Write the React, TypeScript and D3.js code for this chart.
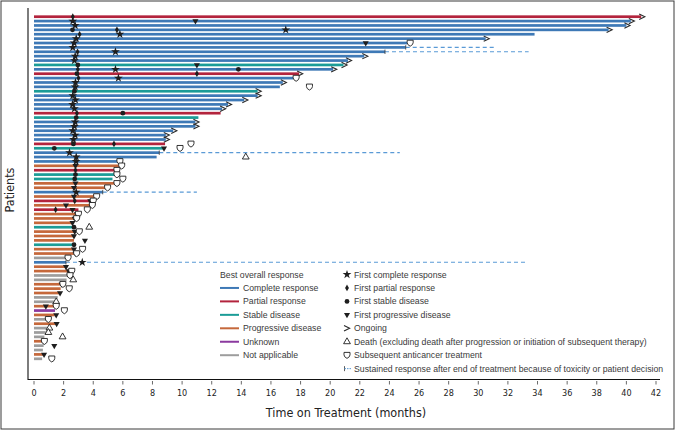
import React from "react";
import * as d3 from "d3";

const responseTypes = ["CR", "PR", "SD", "PD", "UN", "NA"];
const responseLabels = ["Complete response", "Partial response", "Stable disease", "Progressive disease", "Unknown", "Not applicable"];
const responseColors = ["#3e79b6", "#b3243d", "#1b9c97", "#c5683b", "#8b3a9f", "#9d9d9d"];

const bestResponse = [
  "PR", "CR", "CR", "CR", "CR", "CR", "CR", "CR", "CR", "CR",
  "CR", "SD", "CR", "PR", "CR", "CR", "CR", "SD", "CR", "CR",
  "CR", "CR", "PR", "SD", "CR", "CR", "CR", "CR", "CR", "PR",
  "SD", "CR", "CR", "CR", "PD", "PR", "SD", "SD", "PD", "PD",
  "CR", "PD", "PR", "PD", "PR", "PD", "PD", "PD", "SD", "PD",
  "PD", "PD", "SD", "PD", "PD", "NA", "CR", "PD", "PD", "NA",
  "NA", "PD", "PD", "PD", "NA", "NA", "PD", "UN", "PD", "NA",
  "PD", "NA", "NA", "NA", "PD", "NA", "NA", "PD", "NA",
];

const duration = [
  41.0, 40.3, 40.0, 38.8, 33.8, 30.5, 25.2, 25.1, 23.7, 22.3,
  21.2, 20.9, 20.2, 17.9, 17.5, 16.8, 16.6, 15.1, 15.1, 14.2,
  13.1, 12.7, 12.6, 11.1, 10.9, 10.9, 9.4, 8.9, 8.9, 8.85,
  8.78, 8.46, 8.28, 5.75, 5.8, 5.6, 5.5, 5.3, 5.4, 4.8,
  4.64, 4.1, 3.9, 3.8, 3.0, 3.0, 2.85, 2.6, 2.7, 2.75,
  2.7, 2.7, 2.7, 2.7, 2.85, 2.2, 2.16, 2.1, 2.3, 2.4,
  2.2, 1.85, 1.8, 1.75, 1.6, 1.4, 1.5, 1.42, 1.4, 0.95,
  1.5, 0.9, 0.8, 0.7, 0.7, 0.65, 0.6, 0.7, 0.55,
];

const ongoingRows = [1, 2, 3, 4, 6, 10, 11, 12, 13, 14, 16, 18, 19, 20, 21, 22, 25, 26, 27, 28, 29];

const sustained: [number, number][] = [[8, 31.2], [9, 33.4], [32, 24.7], [41, 11.0], [57, 33.3]];

const firstCR: [number, number][] = [
  [2, 2.62], [3, 2.78], [4, 17.0], [5, 5.8], [6, 2.85], [7, 2.71], [8, 2.62], [9, 5.5], [10, 2.78], [11, 2.73],
  [13, 5.5], [15, 5.7], [16, 2.8], [17, 2.78], [19, 2.62], [20, 2.8], [21, 2.6], [22, 2.73], [25, 2.78], [26, 2.73],
  [27, 2.62], [28, 2.78], [29, 2.66], [32, 2.4], [33, 2.85], [34, 2.84], [41, 2.85], [57, 3.26],
];
const firstPR: [number, number][] = [
  [1, 2.62], [4, 5.6], [5, 3.08], [9, 2.94], [13, 2.96], [14, 11.0], [15, 3.0], [23, 2.9], [30, 5.4], [36, 2.8],
  [43, 2.75], [45, 1.46],
];
const firstSD: [number, number][] = [
  [4, 2.6], [12, 2.96], [13, 13.8], [14, 2.9], [18, 2.73], [23, 6.0], [24, 2.85], [30, 2.66], [31, 1.37], [37, 2.8],
  [38, 2.75], [49, 2.7], [53, 2.7],
];
const firstPD: [number, number][] = [
  [2, 10.9], [7, 22.4], [12, 11.0], [31, 8.78], [35, 2.8], [39, 2.8], [40, 2.7], [42, 2.7], [43, 3.8], [44, 2.16],
  [45, 2.6], [46, 2.9], [47, 2.75], [48, 2.6], [50, 2.75], [51, 2.7], [52, 3.44], [54, 2.7], [55, 2.8], [58, 2.16],
  [59, 2.35], [62, 1.87], [64, 1.76], [67, 0.8], [69, 1.5], [71, 1.53], [75, 0.68], [76, 1.37], [78, 0.68],
];
const deaths: [number, number][] = [[33, 14.3], [49, 3.73], [61, 2.65], [66, 1.5], [72, 1.04], [73, 0.97], [74, 1.93]];
const subsequent: [number, number][] = [
  [7, 25.4], [15, 17.7], [17, 18.6], [30, 10.6], [31, 9.86], [34, 5.8], [35, 5.92], [36, 5.6], [37, 5.6], [38, 6.0],
  [39, 5.6], [40, 4.97], [42, 4.23], [43, 4.0], [44, 3.94], [45, 3.6], [46, 3.0], [47, 2.88], [50, 3.06], [54, 3.28],
  [55, 2.88], [56, 2.3], [59, 2.55], [60, 2.43], [62, 1.95], [63, 2.38], [67, 1.5], [68, 2.05], [70, 0.97], [75, 0.7],
  [79, 1.2],
];

const xTicks = d3.range(0, 43, 2);

const eventLabels = [
  "First complete response",
  "First partial response",
  "First stable disease",
  "First progressive disease",
  "Ongoing",
  "Death (excluding death after progression or initiation of subsequent therapy)",
  "Subsequent anticancer treatment",
  "Sustained response after end of treatment because of toxicity or patient decision",
];

const W = 675;
const H = 431;
const font = "'Liberation Sans', Arial, Helvetica, sans-serif";
const narrow = "'Liberation Sans Narrow', 'DejaVu Sans Condensed', 'Roboto Condensed', 'Liberation Sans', Arial, sans-serif";

const x = d3.scaleLinear().domain([0, 42]).range([34, 656]);
const rows = d3.range(1, bestResponse.length + 1);
const y = d3.scalePoint<number>().domain(rows).range([16.7, 358.8]);
const color = d3.scaleOrdinal<string, string>().domain(responseTypes).range(responseColors);

const starPath = d3.symbol().type(d3.symbolStar).size(24)()!;
const diamondPath = d3.symbol().type(d3.symbolDiamond).size(13)()!;
const circlePath = d3.symbol().type(d3.symbolCircle).size(18)()!;
const triPath = d3.symbol().type(d3.symbolTriangle).size(16)()!;
const deathPath = d3.symbol().type(d3.symbolTriangle).size(20)()!;
const shieldPath = "M-3,-2.8H3V-0.3Q3,1.8 0,3.2Q-3,1.8 -3,-0.3Z";
const chevronPath = "M-3,-2.7L2.6,0L-3,2.7";

function Marker({ kind }: { kind: string }) {
  const ink = "#1e1e1e";
  switch (kind) {
    case "CR":
      return <path d={starPath} fill={ink} />;
    case "PR":
      return <path d={diamondPath} fill={ink} />;
    case "SD":
      return <path d={circlePath} fill={ink} />;
    case "PD":
      return <path d={triPath} fill={ink} transform="rotate(180)" />;
    case "ongoing":
      return <path d={chevronPath} fill="none" stroke="#2a2a2a" strokeWidth={1.1} />;
    case "death":
      return <path d={deathPath} fill="#fff" stroke={ink} strokeWidth={0.9} />;
    case "sub":
      return <path d={shieldPath} fill="#fff" stroke={ink} strokeWidth={0.9} />;
    default:
      return null;
  }
}

export default function App() {
  const events: [string, [number, number][]][] = [
    ["CR", firstCR],
    ["PR", firstPR],
    ["SD", firstSD],
    ["PD", firstPD],
    ["death", deaths],
    ["sub", subsequent],
  ];
  const legY0 = 274.5;
  const legStep = 13.45;
  return (
    <svg width={W} height={H} style={{ position: "absolute", left: 0, top: 0, background: "#fff" }}>
      <rect x={1} y={1} width={W - 2} height={H - 3} fill="#fff" stroke="#3a3a3a" strokeWidth={1} />
      {/* axes */}
      <line x1={28} x2={28} y1={8} y2={380} stroke="#111" strokeWidth={1.1} />
      <line x1={28} x2={660} y1={379.5} y2={379.5} stroke="#111" strokeWidth={1} />
      {xTicks.map((t) => (
        <g key={t} transform={`translate(${x(t)},0)`}>
          <line y1={381} y2={384.5} stroke="#444" strokeWidth={0.8} />
          <text y={396} textAnchor="middle" fontFamily={narrow} fontSize={9} fill="#222">
            {t}
          </text>
        </g>
      ))}
      <text x={346} y={417} textAnchor="middle" fontFamily={narrow} fontSize={12.5} fill="#222">
        Time on Treatment (months)
      </text>
      <text transform="translate(14,190) rotate(-90)" textAnchor="middle" fontFamily={narrow} fontSize={12.5} fill="#222">
        Patients
      </text>
      {/* sustained dashed */}
      {sustained.map(([r, end]) => (
        <g key={"s" + r}>
          <line x1={x(duration[r - 1])} x2={x(end)} y1={y(r)!} y2={y(r)!} stroke="#5a9ad6" strokeWidth={1.1} strokeDasharray="4,3" />
        </g>
      ))}
      {/* bars */}
      {rows.map((r) => (
        <rect
          key={"b" + r}
          x={x(0)}
          y={y(r)! - 1.35}
          width={x(duration[r - 1]) - x(0)}
          height={2.7}
          fill={color(bestResponse[r - 1])}
        />
      ))}
      {sustained.map(([r]) => (
        <line key={"t" + r} x1={x(duration[r - 1])} x2={x(duration[r - 1])} y1={y(r)! - 2.2} y2={y(r)! + 2.2} stroke="#333" strokeWidth={0.8} />
      ))}
      {ongoingRows.map((r) => (
        <g key={"o" + r} transform={`translate(${x(duration[r - 1]) + 1},${y(r)})`}>
          <Marker kind="ongoing" />
        </g>
      ))}
      {events.map(([kind, list]) =>
        list.map(([r, t], i) => (
          <g key={kind + i} transform={`translate(${x(t)},${y(r)})`}>
            <Marker kind={kind} />
          </g>
        ))
      )}
      {/* legend */}
      <g fontFamily={font} fontSize={8.7} fill="#3a3a3a">
        <text x={220} y={legY0 + 3}>Best overall response</text>
        {responseTypes.map((rt, i) => (
          <g key={rt} transform={`translate(220,${legY0 + legStep * (i + 1)})`}>
            <line x1={0} x2={19} y1={0} y2={0} stroke={responseColors[i]} strokeWidth={2} />
            <text x={23} y={3}>{responseLabels[i]}</text>
          </g>
        ))}
        {eventLabels.map((lab, i) => {
          const kinds = ["CR", "PR", "SD", "PD", "ongoing", "death", "sub", "sust"];
          const k = kinds[i];
          return (
            <g key={lab} transform={`translate(347,${legY0 + legStep * i})`}>
              {k === "sust" ? (
                <g>
                  <line x1={-2.5} x2={-2.5} y1={-2.5} y2={2.5} stroke="#333" strokeWidth={0.8} />
                  <line x1={-2.5} x2={5} y1={0} y2={0} stroke="#5a9ad6" strokeWidth={1} strokeDasharray="1.5,1" />
                </g>
              ) : (
                <Marker kind={k} />
              )}
              <text x={7} y={3}>{lab}</text>
            </g>
          );
        })}
      </g>
    </svg>
  );
}
